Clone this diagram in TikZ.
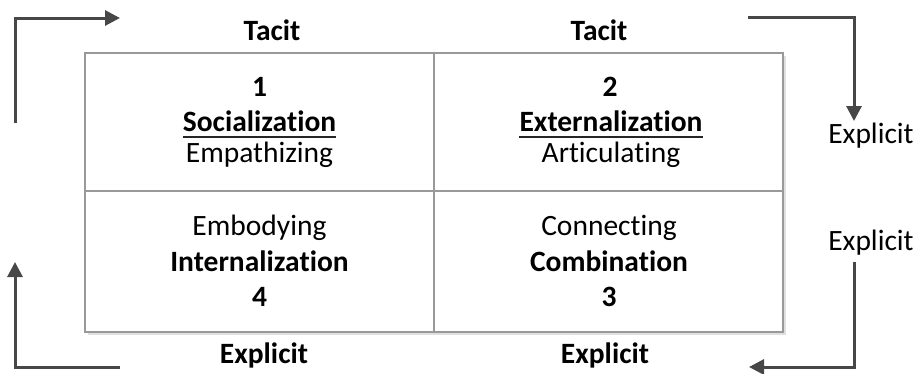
\documentclass[tikz,border=0pt]{standalone}
\usepackage{fontspec}
\setmainfont{Carlito}[Ligatures={NoCommon}]
\usetikzlibrary{arrows.meta}
\tikzset{
  txt/.style={inner sep=0pt, anchor=base, font=\fontsize{29.5}{34}\selectfont, text=black},
  btxt/.style={txt, font=\fontsize{29.5}{34}\selectfont\bfseries},
  grid/.style={draw=black!40, line width=1.2pt},
  flow/.style={draw=black!72, line width=3pt, -{Triangle[length=15pt,width=15pt]}},
  uline/.style={draw=black!85, line width=1.6pt}
}
\begin{document}
\begin{tikzpicture}[x=1pt,y=-1pt]
\useasboundingbox (0,0) rectangle (915,373);
% shadow
\fill[black!12] (88,56) rectangle (786,335);
\fill[white] (85,53) rectangle (783,332);
% table
\draw[grid] (85,53) rectangle (783,332);
\draw[grid] (434,53) -- (434,332);
\draw[grid] (85,191) -- (783,191);
% headers
\node[btxt] (tacitL) at (272,40) {Tacit};
\node[btxt] (tacitR) at (599,40) {Tacit};
\node[btxt] (explB1) at (264,363) {Explicit};
\node[btxt] (explB2) at (605,363) {Explicit};
\node[txt] (explR1) at (871,143) {Explicit};
\node[txt] (explR2) at (871,250) {Explicit};
% cell 1
\node[btxt] (n1) at (259.5,96) {1};
\node[btxt] (soc) at (259.5,131) {Socialization};
\draw[uline] ([yshift=-6pt]soc.base west) -- ([yshift=-6pt]soc.base east);
\node[txt] (emp) at (259.5,162) {Empathizing};
% cell 2
\node[btxt] (n2) at (610,96) {2};
\node[btxt] (ext) at (611,131) {Externalization};
\draw[uline] ([yshift=-6pt]ext.base west) -- ([yshift=-6pt]ext.base east);
\node[txt] (art) at (611,162) {Articulating};
% cell 4
\node[txt] (emb) at (259.5,235) {Embodying};
\node[btxt] (int) at (259.5,271) {Internalization};
\node[btxt] (n4) at (259.5,306) {4};
% cell 3
\node[txt] (con) at (609,235) {Connecting};
\node[btxt] (com) at (609,271) {Combination};
\node[btxt] (n3) at (609,306) {3};
% arrows
\coordinate (a1s) at (15,123);
\coordinate (a1e) at (120,18);
\coordinate (a2s) at (748,17);
\coordinate (a2e) at (854,121);
\coordinate (a3s) at (854,262);
\coordinate (a3e) at (749,367);
\coordinate (a4s) at (120,367);
\coordinate (a4e) at (15,262);
\draw[flow] (a1s) |- (a1e);
\draw[flow] (a2s) -| (a2e);
\draw[flow] (a3s) |- (a3e);
\draw[flow] (a4s) -| (a4e);
\end{tikzpicture}
\end{document}
